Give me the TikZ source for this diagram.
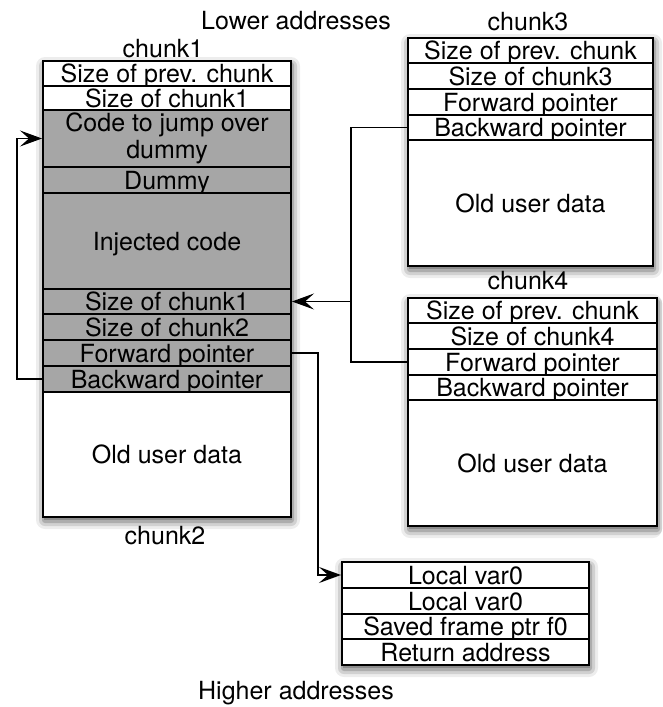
\documentclass[tikz,border=0pt]{standalone}
\usepackage{fontspec}
\setmainfont{TeX Gyre Heros}
\usetikzlibrary{arrows.meta}
\definecolor{cellgray}{RGB}{166,166,166}
\definecolor{shadeA}{gray}{0.93}
\definecolor{shadeB}{gray}{0.82}
\definecolor{shadeC}{gray}{0.68}
\definecolor{shadeD}{gray}{0.55}
\tikzset{>={Stealth[length=22pt,width=16pt,inset=9pt]}}
\begin{document}
\begin{tikzpicture}[x=1pt,y=-1pt,
  font=\fontsize{25}{27}\selectfont,
  cellbase/.style={draw, line width=2pt, anchor=north west, inner sep=0pt, fill=white},
  cell/.style={cellbase, text height=18pt, text depth=0pt},
  hot/.style={fill=cellgray},
  caption/.style={inner sep=0pt, text height=18pt, text depth=0pt},
  link/.style={line width=1.6pt},
  wA/.style={minimum width=248pt},
  wC/.style={minimum width=245pt},
  wD/.style={minimum width=249pt},
  wS/.style={minimum width=247pt}
]
\useasboundingbox (0,0) rectangle (662,707);

% drop shadows under the four blocks, lighter towards the outside
\fill[shadeA, rounded corners=9pt] (36,57) rectangle (300,529);
\fill[shadeB, rounded corners=6pt] (39,60) rectangle (297,526);
\fill[shadeC, rounded corners=3pt] (42,62) rectangle (294,523);
\fill[shadeD] (44,64) rectangle (292,520);

\fill[shadeA, rounded corners=9pt] (401,34) rectangle (662,278);
\fill[shadeB, rounded corners=6pt] (404,37) rectangle (659,275);
\fill[shadeC, rounded corners=3pt] (407,39) rectangle (656,272);
\fill[shadeD] (409,41) rectangle (654,269);

\fill[shadeA, rounded corners=9pt] (401,294) rectangle (662,538);
\fill[shadeB, rounded corners=6pt] (404,297) rectangle (662,535);
\fill[shadeC, rounded corners=3pt] (407,299) rectangle (660,532);
\fill[shadeD] (409,301) rectangle (658,529);

\fill[shadeA, rounded corners=9pt] (335,558) rectangle (598,677);
\fill[shadeB, rounded corners=6pt] (338,561) rectangle (595,674);
\fill[shadeC, rounded corners=3pt] (341,563) rectangle (592,671);
\fill[shadeD] (343,565) rectangle (590,668);

% chunk1 (overwritten)
\node[cell, wA, minimum height=25pt] (c1a) at (42,60) {Size of prev. chunk};
\node[cell, wA, minimum height=24pt] (c1b) at (42,85) {Size of chunk1};
\node[cellbase, hot, wA, minimum height=57pt, align=center] (c1c) at (42,109) {Code to jump over\\dummy};
\node[cell, hot, wA, minimum height=26pt] (c1d) at (42,166) {Dummy};
\node[cell, hot, wA, minimum height=96pt] (c1e) at (42,192) {Injected code};
\node[cell, hot, wA, minimum height=25pt] (c1f) at (42,288) {Size of chunk1};
\node[cell, hot, wA, minimum height=26pt] (c1g) at (42,313) {Size of chunk2};
\node[cell, hot, wA, minimum height=26pt] (c1h) at (42,339) {Forward pointer};
\node[cell, hot, wA, minimum height=26pt] (c1i) at (42,365) {Backward pointer};
\node[cell, wA, minimum height=125pt] (c1j) at (42,391) {Old user data};

% chunk3
\node[cell, wC, minimum height=25pt] (c3a) at (407,37) {Size of prev. chunk};
\node[cell, wC, minimum height=26pt] (c3b) at (407,62) {Size of chunk3};
\node[cell, wC, minimum height=26pt] (c3c) at (407,88) {Forward pointer};
\node[cell, wC, minimum height=25pt] (c3d) at (407,114) {Backward pointer};
\node[cell, wC, minimum height=126pt] (c3e) at (407,139) {Old user data};

% chunk4
\node[cell, wD, minimum height=25pt] (c4a) at (407,297) {Size of prev. chunk};
\node[cell, wD, minimum height=26pt] (c4b) at (407,322) {Size of chunk4};
\node[cell, wD, minimum height=26pt] (c4c) at (407,348) {Forward pointer};
\node[cell, wD, minimum height=25pt] (c4d) at (407,374) {Backward pointer};
\node[cell, wD, minimum height=126pt] (c4e) at (407,399) {Old user data};

% stack frame
\node[cell, wS, minimum height=26pt] (s1) at (341,561) {Local var0};
\node[cell, wS, minimum height=26pt] (s2) at (341,587) {Local var0};
\node[cell, wS, minimum height=25pt] (s3) at (341,613) {Saved frame ptr f0};
\node[cell, wS, minimum height=26pt] (s4) at (341,638) {Return address};

% captions
\node[caption] (lower) at (296,20) {Lower addresses};
\node[caption] (lab1) at (163,48) {chunk1};
\node[caption] (lab2) at (165,535) {chunk2};
\node[caption] (lab3) at (528,21) {chunk3};
\node[caption] (lab4) at (528,280.5) {chunk4};
\node[caption] (higher) at (296,690) {Higher addresses};

% pointers
\draw[link, ->] (c1i.west) -- ++(-25,0) |- (c1c.west);
\draw[link, ->] (c1h.east) -- ++(26,0) |- (s1.west);
\coordinate[xshift=59pt] (merge) at (c1f.east);
\draw[link] (c3d.west) -| (merge);
\draw[link] (c4c.west) -| (merge);
\draw[link, ->] (merge) -- (c1f.east);
\end{tikzpicture}
\end{document}
